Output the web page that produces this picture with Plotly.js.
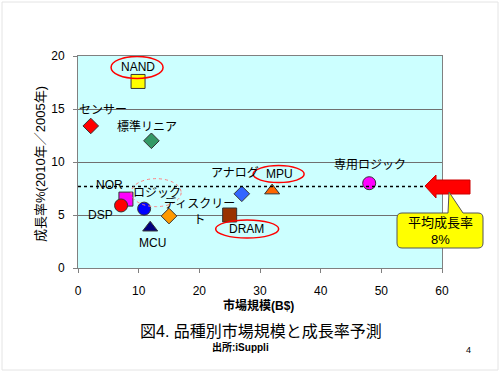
<!DOCTYPE html>
<html>
<head>
<meta charset="utf-8">
<script src="https://cdn.plot.ly/plotly-3.0.1.min.js"></script>
<style>html,body{margin:0;padding:0;background:#fff;}#chart{width:500px;height:375px;}</style>
</head>
<body>
<div id="chart"></div>
<script>
// ---- data ----
const categories = ['NAND','センサー','標準リニア','NOR','DSP','ロジック','MCU','ディスクリート','DRAM','アナログ','MPU','専用ロジック'];
const marketSize = [9.9, 2.1, 12.1, 7.9, 7.1, 10.9, 11.9, 15.0, 25.0, 27.0, 32.0, 48.0];
const growthRate = [17.6, 13.4, 12.0, 6.5, 5.9, 5.6, 3.8, 4.9, 5.0, 7.0, 7.3, 8.0];
const labelText = ['NAND','センサー','標準リニア','NOR','DSP','ロジック','MCU','ディスクリー<br>ト','DRAM','アナログ','MPU','専用ロジック'];
const avgGrowth = 7.7;
const xTicks = [0, 10, 20, 30, 40, 50, 60];
const yTicks = [0, 5, 10, 15, 20];

// ---- styles ----
const symbols = ['square','diamond','diamond','square','circle','circle','triangle-up','diamond','square','diamond','triangle-up','circle'];
const colors  = ['#ffff00','#ff0000','#339966','#ff00ff','#ff0000','#0000ff','#000080','#ff9900','#993300','#3366ff','#ff6600','#ff00ff'];
const sizes   = [14, 12, 12, 14, 13, 13, 13, 12, 14, 12, 13, 13];
// label offsets in px (x right, y up)
const labelDx = [0, 12, -4, -16, -21, 13, 2, 30, 17, -7, 7, 1];
const labelDy = [14, 16, 14, 14, -10, 16, -15, 5, -14, 21, 17, 18];

const FONT = 'Arial, "Liberation Sans", "Noto Sans CJK JP", sans-serif';

const L = 78, R = 442, T = 56, B = 268;
const px = (x) => (x - L) / (R - L);
const py = (y) => (B - y) / (B - T);
const P = (x, y) => px(x) + ',' + py(y);

const trace = {
  type: 'scatter', mode: 'markers',
  x: marketSize, y: growthRate, text: categories,
  marker: {symbol: symbols, color: colors, size: sizes, opacity: 1, line: {color: '#333333', width: 1}},
  hoverinfo: 'text+x+y', showlegend: false
};

const annotations = categories.map((c, i) => ({
  x: marketSize[i], y: growthRate[i], xref: 'x', yref: 'y', xanchor: 'center', yanchor: 'middle',
  text: labelText[i], showarrow: false, xshift: labelDx[i], yshift: labelDy[i],
  font: {family: FONT, size: 12, color: '#000'}
}));

function paperText(x, y, text, size, extra) {
  return Object.assign({xref: 'paper', yref: 'paper', x: px(x), y: py(y), xanchor: 'center', yanchor: 'middle',
    text: text, showarrow: false, font: {family: FONT, size: size, color: '#000'}}, extra || {});
}

annotations.push(
  paperText(40, 164, '成長率%(2010年／2005年)', 13, {textangle: -90}),
  paperText(258, 305, '<b>市場規模(B$)</b>', 12),
  paperText(261, 331, '図4. 品種別市場規模と成長率予測', 16),
  paperText(240, 347, '<b>出所:iSuppli</b>', 10),
  paperText(468, 350, '4', 9),
  paperText(440, 231, '平均成長率<br>8%', 13)
);

function ellipse(i, x0, x1, y0, y1, color, dash) {
  return {type: 'circle', xref: 'x', yref: 'y', xsizemode: 'pixel', ysizemode: 'pixel',
    xanchor: marketSize[i], yanchor: growthRate[i], x0: x0, x1: x1, y0: y0, y1: y1,
    line: {color: color, width: dash ? 1 : 1.5, dash: dash || 'solid'}, fillcolor: 'rgba(0,0,0,0)'};
}

const shapes = [
  // dotted average line
  {type: 'line', xref: 'paper', yref: 'y', x0: 0, x1: px(426), y0: avgGrowth, y1: avgGrowth,
   line: {color: '#000', width: 1.5, dash: 'dot'}},
  ellipse(0, -27, 25, 3, 25, '#ff0000'),
  ellipse(8, -14, 49, -23, -5, '#ff0000'),
  ellipse(10, -19, 32, 8, 25, '#ff0000'),
  ellipse(5, -13, 37, 2, 30, '#ff8080', 'dot'),
  // red arrow
  {type: 'path', xref: 'paper', yref: 'paper',
   path: 'M' + P(425,186) + ' L' + P(436,175) + ' L' + P(436,180) + ' L' + P(470,180) + ' L' + P(470,194) +
         ' L' + P(436,194) + ' L' + P(436,198) + ' Z',
   fillcolor: '#ff0000', line: {color: '#cc0000', width: 1}},
  // callout
  {type: 'path', xref: 'paper', yref: 'paper',
   path: 'M' + P(402,213) + ' L' + P(448,213) + ' L' + P(449,192) + ' L' + P(463,213) + ' L' + P(478,213) +
         ' Q' + P(483,213) + ' ' + P(483,218) + ' L' + P(483,243) + ' Q' + P(483,248) + ' ' + P(478,248) +
         ' L' + P(402,248) + ' Q' + P(397,248) + ' ' + P(397,243) + ' L' + P(397,218) + ' Q' + P(397,213) + ' ' + P(402,213) + ' Z',
   fillcolor: '#ffff00', line: {color: '#555555', width: 1}},
  // slide frame
  {type: 'rect', xref: 'paper', yref: 'paper', x0: px(2), x1: px(498), y0: py(370), y1: py(2),
   line: {color: '#e4e4e4', width: 1}, fillcolor: 'rgba(0,0,0,0)', layer: 'below'}
];

const layout = {
  width: 500, height: 375,
  margin: {l: L, r: 500 - R, t: T, b: 375 - B, pad: 0},
  paper_bgcolor: '#ffffff', plot_bgcolor: '#ccffff',
  font: {family: FONT, size: 12, color: '#000'},
  showlegend: false,
  xaxis: {range: [0, 60], tickvals: xTicks, ticktext: xTicks.map(String), ticks: 'outside', ticklen: 4,
          tickcolor: '#808080', showline: true, linecolor: '#808080', linewidth: 1, mirror: true,
          showgrid: false, zeroline: false, ticklabelstandoff: 8, fixedrange: true,
          tickfont: {family: FONT, size: 12, color: '#000'}},
  yaxis: {range: [0, 20], tickvals: yTicks, ticktext: yTicks.map(String), ticks: 'outside', ticklen: 4,
          tickcolor: '#808080', showline: true, linecolor: '#808080', linewidth: 1, mirror: true,
          showgrid: true, gridcolor: '#707070', gridwidth: 1, zeroline: false, ticklabelstandoff: 6,
          fixedrange: true, tickfont: {family: FONT, size: 12, color: '#000'}},
  annotations: annotations,
  shapes: shapes
};

Plotly.newPlot('chart', [trace], layout, {displayModeBar: false, staticPlot: true});
</script>
</body>
</html>
